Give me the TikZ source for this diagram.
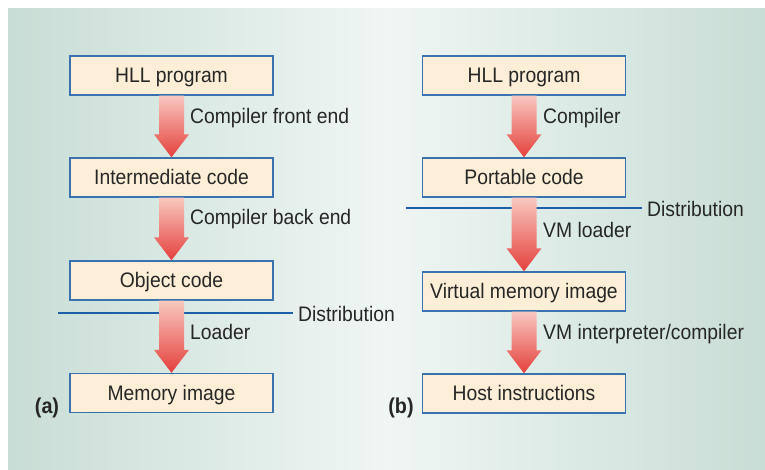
\documentclass[tikz,border=0pt]{standalone}
\usepackage{fontspec}
\setmainfont{Liberation Sans}[FakeStretch=0.92]
\usetikzlibrary{calc}
\definecolor{boxfill}{HTML}{FDEFD7}
\definecolor{boxline}{HTML}{3A72B0}
\definecolor{distline}{HTML}{1A5FA8}
\definecolor{txt}{HTML}{262626}
\definecolor{bgside}{HTML}{C8DDD5}
\definecolor{bgmid}{HTML}{EFF6F4}
\definecolor{arrtop}{HTML}{F8C8BF}
\definecolor{arrbot}{HTML}{E5403C}
\tikzset{
  stagebox/.style={draw=boxline, line width=1.3pt, fill=boxfill, minimum width=203pt, minimum height=39pt,
    inner sep=0pt, text height=14.8pt, text depth=0pt, text=txt, font=\fontsize{21}{24}\selectfont},
  lab/.style={text=txt, inner sep=0pt, anchor=base west, font=\fontsize{21}{24}\selectfont},
  partlab/.style={text=txt, inner sep=0pt, font=\fontsize{21.5}{24}\selectfont\bfseries},
  distrib/.style={draw=distline, line width=2pt},
  flow/.style={top color=arrtop, bottom color=arrbot, draw=none}
}
\newcommand{\flowarrow}[2]{%
  \path[flow] ($(#1.south)+(-12.5,0)$) -- ($(#1.south)+(12.5,0)$) -- ($(#2.north)+(12.5,-23)$)
    -- ($(#2.north)+(17.5,-23)$) -- (#2.north) -- ($(#2.north)+(-17.5,-23)$)
    -- ($(#2.north)+(-12.5,-23)$) -- cycle;}
\begin{document}
\begin{tikzpicture}[x=1pt, y=-1pt]
\useasboundingbox (0,0) rectangle (765,469);
\fill[white] (0,0) rectangle (765,469);
\shade[left color=bgside, right color=bgside, middle color=bgmid] (8,8) rectangle (765,469);
% (a)
\node[stagebox] (a1) at (171.5,75.5) {HLL program};
\node[stagebox] (a2) at (171.5,177.5) {Intermediate code};
\node[stagebox] (a3) at (171.5,280.5) {Object code};
\node[stagebox] (a4) at (171.5,393) {Memory image};
\node[lab] (la1) at (190,123) {Compiler front end};
\node[lab] (la2) at (190,224) {Compiler back end};
\node[lab] (la3) at (190,339) {Loader};
\node[lab] (da) at (298,321) {Distribution};
\coordinate (dal) at (58,313);
\draw[distrib] (dal) -- ($(dal -| da.west)+(-5,0)$);
\flowarrow{a1}{a2}
\flowarrow{a2}{a3}
\flowarrow{a3}{a4}
\node[partlab] (pa) at (47,408) {(a)};
% (b)
\node[stagebox] (b1) at (524,75.5) {HLL program};
\node[stagebox] (b2) at (524,177.5) {Portable code};
\node[stagebox] (b3) at (524,291.5) {Virtual memory image};
\node[stagebox] (b4) at (524,393.5) {Host instructions};
\node[lab] (lb1) at (543,123) {Compiler};
\node[lab] (lb2) at (543,237) {VM loader};
\node[lab] (lb3) at (543,339) {VM interpreter/compiler};
\node[lab] (db) at (647,216) {Distribution};
\coordinate (dbl) at (406,208);
\draw[distrib] (dbl) -- ($(dbl -| db.west)+(-5,0)$);
\flowarrow{b1}{b2}
\flowarrow{b2}{b3}
\flowarrow{b3}{b4}
\node[partlab] (pb) at (401,408) {(b)};
\end{tikzpicture}
\end{document}
